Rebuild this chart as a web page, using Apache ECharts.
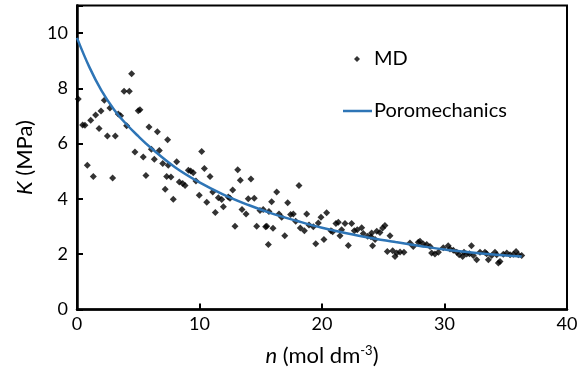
<!DOCTYPE html>
<html>
<head>
<meta charset="utf-8">
<script src="https://cdn.jsdelivr.net/npm/echarts@6/dist/echarts.min.js"></script>
<style>
html,body{margin:0;padding:0;background:#fff;}
#chart{width:582px;height:379px;}
</style>
</head>
<body>
<div id="chart"></div>
<script>
// MD scatter points: n (mol dm-3), K (MPa)
const mdN = [0.1,0.46,0.65,0.84,1.12,1.33,1.52,1.8,1.96,2.23,2.48,2.69,2.91,3.13,3.37,3.56,3.84,4.05,4.27,4.46,4.73,5.0,5.14,5.41,5.63,5.88,6.07,6.31,6.56,6.72,7.0,7.2,7.32,7.4,7.45,7.67,7.86,8.14,8.35,8.63,8.82,
9.09,9.28,9.49,9.71,9.98,10.18,10.4,10.59,10.86,11.08,11.29,11.54,11.81,11.95,12.35,12.49,12.71,12.9,13.12,13.33,13.47,13.8,13.98,14.2,14.47,14.67,14.94,15.2,15.4,15.49,15.62,15.67,15.89,16.0,16.3,16.49,16.71,16.96,17.2,17.44,17.66,17.85,18.12,18.23,18.56,18.75,18.94,19.29,19.49,19.7,19.92,20.16,20.38,20.73,20.87,21.14,21.33,21.47,21.6,21.88,22.15,22.42,22.64,22.88,23.24,23.37,23.73,24.0,24.05,24.13,24.33,24.47,24.73,24.95,25.14,25.33,25.55,25.77,25.96,26.1,26.37,26.69,27.18,27.45,27.86,28.0,28.27,28.55,28.82,28.95,29.22,29.5,29.9,30.3,30.45,30.72,31.0,31.2,31.48,31.59,31.81,32.03,32.2,32.35,32.63,32.9,33.3,33.44,33.58,33.85,34.12,34.26,34.4,34.53,34.8,35.08,35.35,35.62,35.84,36.03,36.3];
const mdK = [7.62,6.68,6.67,5.22,6.85,4.81,7.04,6.55,7.18,7.57,6.28,7.29,4.76,6.28,7.07,7.01,7.9,6.65,7.9,8.53,5.7,7.19,7.23,5.52,4.85,6.6,5.8,5.44,6.43,5.75,5.28,4.35,4.81,6.14,5.22,4.79,3.99,5.35,4.61,4.56,4.49,
5.04,5.01,4.95,4.65,4.13,5.72,5.1,3.88,4.81,4.25,3.51,4.04,3.98,3.72,4.07,4.03,4.32,3.01,5.06,4.68,3.62,3.46,4.01,4.72,4.03,3.01,3.58,3.62,2.99,3.01,2.35,3.55,3.9,2.94,4.25,3.46,3.34,2.67,3.86,3.44,3.46,3.19,4.49,2.95,2.85,3.46,3.06,2.99,2.38,3.13,3.34,2.53,3.5,2.85,2.81,3.11,3.16,2.67,2.89,3.11,2.32,3.11,2.85,2.89,2.96,2.75,2.65,2.63,2.77,2.31,2.53,2.83,2.79,2.95,3.04,2.1,2.67,2.13,1.92,2.04,2.08,2.07,2.41,2.28,2.43,2.47,2.37,2.35,2.28,2.04,2.01,2.07,2.23,2.31,2.19,2.14,2.07,1.98,1.92,2.07,2.01,2.02,2.31,1.95,1.8,2.07,2.07,2.02,1.8,1.95,2.07,1.98,1.68,1.74,2.0,2.04,1.98,2.0,2.1,1.98,1.95];
// Poromechanics curve
const poroN = [0,1,2,3,4,5,6,8,10,12,14,16,18,20,22,24,26,28,30,32,34,36.3];
const poroK = [9.83,8.78,7.92,7.25,6.72,6.27,5.86,5.15,4.6,4.15,3.78,3.46,3.2,2.96,2.76,2.59,2.44,2.3,2.17,2.07,1.99,1.92];
const xTicks = [0,10,20,30,40];
const yTicks = [0,2,4,6,8,10];

const FONT = 'Lato';
const BLUE = '#2E75B6';
const chart = echarts.init(document.getElementById('chart'), null, {renderer:'canvas'});
chart.setOption({
  animation:false,
  backgroundColor:'#fff',
  grid:{left:77,right:15,top:5.5,bottom:69.5,show:true,borderColor:'#000',borderWidth:2,containLabel:false},
  xAxis:{
    type:'value',min:0,max:40,interval:10,
    axisLine:{show:true,lineStyle:{color:'#000',width:2.5}},
    axisTick:{show:true,inside:true,length:6,lineStyle:{color:'#000',width:2}},
    splitLine:{show:false},
    axisLabel:{color:'#000',fontSize:18,fontFamily:FONT,margin:6,
      formatter:v=>xTicks.includes(v)?String(v):''},
    name:'{i|n} (mol dm{sup|-3})',
    nameLocation:'middle',nameGap:35,
    nameTextStyle:{color:'#000',fontSize:22,fontFamily:FONT,
      rich:{i:{fontStyle:'italic',fontSize:22,fontFamily:FONT,color:'#000'},
            sup:{fontSize:13,fontFamily:FONT,verticalAlign:'top',color:'#000'}}}
  },
  yAxis:{
    type:'value',min:0,max:11,interval:2,
    axisLine:{show:true,lineStyle:{color:'#000',width:2.5}},
    axisTick:{show:true,inside:true,length:6,lineStyle:{color:'#000',width:2}},
    splitLine:{show:false},
    axisLabel:{color:'#000',fontSize:18,fontFamily:FONT,margin:9,
      formatter:v=>yTicks.includes(v)?String(v):''},
    name:'{i|K} (MPa)',
    nameLocation:'middle',nameGap:23,nameRotate:90,
    nameTextStyle:{color:'#000',fontSize:22,fontFamily:FONT,
      rich:{i:{fontStyle:'italic',fontSize:22,fontFamily:FONT,color:'#000'}}}
  },
  legend:[
    {data:[{name:'MD',icon:'diamond'}],orient:'vertical',left:354,top:49,padding:0,itemWidth:6,itemHeight:6,
     itemStyle:{color:'#000'},
     textStyle:{color:'#000',fontSize:20,fontFamily:FONT,padding:[0,0,0,9]}},
    {data:[{name:'Poromechanics',icon:'rect'}],orient:'vertical',left:343,top:101,padding:0,itemWidth:29,itemHeight:2.5,
     itemStyle:{color:BLUE},
     textStyle:{color:'#000',fontSize:20,fontFamily:FONT,padding:[0,0,0,-3]}}
  ],
  series:[
    {name:'MD',type:'scatter',symbol:'diamond',symbolSize:7,
     itemStyle:{color:'#000'},
     data:mdN.map((n,i)=>[n,mdK[i]]),z:3},
    {name:'Poromechanics',type:'line',smooth:0.4,symbol:'none',showSymbol:false,
     lineStyle:{color:BLUE,width:2.5},itemStyle:{color:BLUE},
     data:poroN.map((n,i)=>[n,poroK[i]]),z:4}
  ]
});
</script>
</body>
</html>
